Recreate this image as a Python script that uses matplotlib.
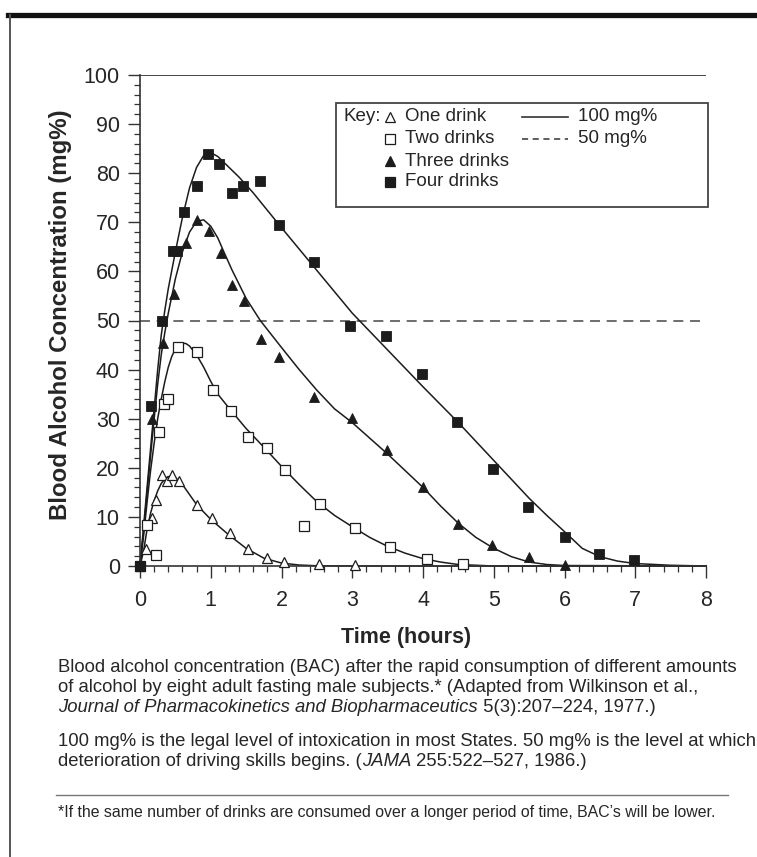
import matplotlib
matplotlib.use("Agg")
import matplotlib.pyplot as plt
from matplotlib.ticker import MultipleLocator
from matplotlib.patches import Rectangle
from matplotlib.lines import Line2D

plt.rcParams['font.family'] = ['Liberation Sans', 'DejaVu Sans']

# measured points (time in hours, BAC in mg%)
one_t = [0, 0.09, 0.17, 0.22, 0.31, 0.38, 0.45, 0.55, 0.80, 1.02, 1.27, 1.52, 1.79, 2.03, 2.53, 3.04]
one_y = [0, 3.5, 9.7, 13.4, 18.5, 17.3, 18.5, 17.3, 12.5, 9.7, 6.7, 3.5, 1.6, 0.8, 0.4, 0.2]

two_t = [0, 0.10, 0.22, 0.27, 0.34, 0.40, 0.54, 0.80, 1.03, 1.29, 1.53, 1.80, 2.05, 2.32, 2.54, 3.04, 3.53, 4.05, 4.56]
two_y = [0, 8.3, 2.2, 27.2, 33.0, 34.0, 44.6, 43.5, 35.8, 31.6, 26.2, 24.0, 19.6, 8.1, 12.6, 7.8, 3.9, 1.4, 0.5]

three_t = [0, 0.17, 0.32, 0.48, 0.65, 0.80, 0.98, 1.14, 1.30, 1.47, 1.71, 1.96, 2.46, 2.99, 3.49, 4.00, 4.49, 4.98, 5.50, 6.00]
three_y = [0, 30.0, 45.5, 55.3, 65.8, 70.4, 68.2, 63.8, 57.2, 54.0, 46.2, 42.6, 34.5, 30.1, 23.6, 16.0, 8.6, 4.3, 1.9, 0.3]

four_t = [0, 0.15, 0.31, 0.46, 0.52, 0.62, 0.80, 0.96, 1.12, 1.30, 1.45, 1.70, 1.96, 2.46, 2.97, 3.48, 3.98, 4.48, 4.99, 5.49, 6.00, 6.49, 6.98]
four_y = [0, 32.6, 50.0, 64.2, 64.2, 72.1, 77.4, 84.0, 81.9, 76.0, 77.3, 78.5, 69.5, 61.9, 48.9, 46.8, 39.1, 29.3, 19.7, 12.1, 6.0, 2.4, 1.2]

# fitted curves
fit1_t = [0, 0.05, 0.1, 0.15, 0.2, 0.25, 0.3, 0.35, 0.4, 0.45, 0.5, 0.6, 0.8, 1.0, 1.25, 1.5, 1.75, 2.0, 2.25, 2.5, 3.0, 8.0]
fit1_y = [0, 3.0, 7.5, 10.8, 13.3, 15.3, 16.8, 17.7, 18.2, 18.3, 18.0, 16.6, 12.5, 9.5, 6.4, 3.6, 1.6, 0.6, 0.2, 0.05, 0, 0]

fit2_t = [0, 0.05, 0.1, 0.15, 0.2, 0.25, 0.3, 0.35, 0.4, 0.45, 0.5, 0.55, 0.6, 0.65, 0.7, 0.8, 0.9, 1.0, 1.1, 1.25,
          1.5, 1.75, 2.0, 2.25, 2.5, 2.75, 3.0, 3.25, 3.5, 3.75, 4.0, 4.25, 4.5, 5.0, 8.0]
fit2_y = [0, 6.0, 13.0, 19.5, 25.0, 30.0, 34.0, 37.5, 40.5, 42.7, 44.2, 45.1, 45.4, 45.3, 44.8, 43.0, 40.5, 37.6, 35.0, 32.3,
          28.0, 24.2, 20.3, 16.6, 13.1, 10.3, 8.0, 5.8, 4.0, 2.6, 1.5, 0.8, 0.3, 0, 0]

fit3_t = [0, 0.05, 0.1, 0.15, 0.2, 0.25, 0.3, 0.35, 0.4, 0.5, 0.6, 0.7, 0.8, 0.9, 1.0, 1.1, 1.2, 1.3, 1.5, 1.7,
          2.0, 2.25, 2.5, 2.75, 3.0, 3.5, 4.0, 4.25, 4.5, 4.75, 5.0, 5.25, 5.5, 5.75, 6.0, 8.0]
fit3_y = [0, 7.0, 15.0, 22.5, 30.0, 37.0, 43.0, 47.5, 51.5, 58.5, 64.0, 68.0, 70.2, 70.5, 69.2, 66.8, 63.5, 60.3, 54.5, 50.0,
          44.5, 40.0, 35.8, 32.0, 29.2, 22.8, 16.0, 12.2, 8.7, 5.8, 3.6, 1.9, 0.8, 0.3, 0.1, 0]

fit4_t = [0, 0.05, 0.1, 0.15, 0.2, 0.25, 0.3, 0.35, 0.4, 0.5, 0.6, 0.7, 0.8, 0.9, 1.0, 1.1, 1.2, 1.4, 1.6, 2.0,
          2.5, 3.0, 3.5, 4.0, 4.5, 5.0, 5.5, 5.75, 6.0, 6.25, 6.5, 6.75, 7.0, 7.5, 8.0]
fit4_y = [0, 8.0, 16.0, 24.0, 32.0, 40.0, 47.0, 52.0, 56.5, 64.0, 71.0, 77.0, 81.2, 83.6, 84.2, 83.4, 82.0, 79.2, 76.0, 68.9,
          60.2, 51.5, 44.0, 36.5, 29.2, 21.5, 13.8, 10.3, 7.0, 3.6, 1.9, 1.0, 0.5, 0.15, 0]

legal_level = 100
impair_level = 50

ink = '#1c1c1c'
txt = '#262626'

fig = plt.figure(figsize=(7.57, 8.57), dpi=100)
ax = fig.add_axes([140 / 757, 1 - 566 / 857, 566 / 757, 491 / 857])

for t, y in [(fit1_t, fit1_y), (fit2_t, fit2_y), (fit3_t, fit3_y), (fit4_t, fit4_y)]:
    ax.plot(t, y, color=ink, lw=1.1, clip_on=False, zorder=2)

ax.plot(one_t, one_y, ls='none', marker='^', ms=7.5, mfc='white', mec=ink, mew=0.9, clip_on=False, zorder=3)
ax.plot(two_t, two_y, ls='none', marker='s', ms=7.2, mfc='white', mec=ink, mew=0.9, clip_on=False, zorder=3)
ax.plot(three_t, three_y, ls='none', marker='^', ms=7.5, mfc=ink, mec=ink, mew=0.6, clip_on=False, zorder=3)
ax.plot(four_t, four_y, ls='none', marker='s', ms=7.2, mfc=ink, mec=ink, mew=0.6, clip_on=False, zorder=3)

ax.axhline(legal_level, color='#444444', lw=1.4, zorder=1)
ax.axhline(impair_level, color='#555555', lw=1.2, ls=(0, (6, 4)), zorder=1)

ax.set_xlim(0, 8)
ax.set_ylim(0, 100)
ax.xaxis.set_major_locator(MultipleLocator(1))
ax.xaxis.set_minor_locator(MultipleLocator(0.2))
ax.yaxis.set_major_locator(MultipleLocator(10))
ax.yaxis.set_minor_locator(MultipleLocator(2))
ax.tick_params(which='major', direction='out', length=8.5, width=1, color='#333333',
               labelsize=15.5, labelcolor=txt)
ax.tick_params(axis='x', which='major', pad=9)
ax.tick_params(axis='y', which='major', pad=6)
ax.tick_params(which='minor', direction='out', length=4.5, width=0.9, color='#333333')
for s in ['top', 'right']:
    ax.spines[s].set_visible(False)
for s in ['left', 'bottom']:
    ax.spines[s].set_color('#333333')
    ax.spines[s].set_linewidth(1.2)

ax.set_xlabel('Time (hours)', fontsize=15.5, fontweight='bold', color=txt, va='center')
ax.xaxis.set_label_coords(0.47, -0.146)
ax.set_ylabel('Blood Alcohol Concentration (mg%)', fontsize=17.3, fontweight='bold', color=txt, va='center')
ax.yaxis.set_label_coords(-0.141, 0.511)

# key box
ax.add_patch(Rectangle((0.346, 0.731), 0.657, 0.212, transform=ax.transAxes, fill=False,
                       ec='#444444', lw=1.3, clip_on=False, zorder=4))
rows = [0.9145, 0.8697, 0.8248, 0.7821]
ks = 13.5
ax.text(0.359, rows[0], 'Key:', transform=ax.transAxes, fontsize=ks, color=txt, va='center')
key_items = [('^', 'white', 'One drink'), ('s', 'white', 'Two drinks'),
             ('^', ink, 'Three drinks'), ('s', ink, 'Four drinks')]
for r, (m, fc, lab) in zip(rows, key_items):
    ax.add_line(Line2D([0.4417], [r], transform=ax.transAxes, marker=m, ms=7.5 if m == '^' else 7,
                       mfc=fc, mec=ink, mew=0.9, ls='none', clip_on=False))
    ax.text(0.468, r, lab, transform=ax.transAxes, fontsize=ks, color=txt, va='center')
ax.add_line(Line2D([0.675, 0.756], [rows[0], rows[0]], transform=ax.transAxes, color='#333333', lw=1.2))
ax.add_line(Line2D([0.675, 0.756], [rows[1], rows[1]], transform=ax.transAxes, color='#333333', lw=1.1,
                   ls=(0, (4, 3))))
ax.text(0.774, rows[0], '100 mg%', transform=ax.transAxes, fontsize=ks, color=txt, va='center')
ax.text(0.774, rows[1], '50 mg%', transform=ax.transAxes, fontsize=ks, color=txt, va='center')

# caption
cx = 58 / 757
cs = 13.3
def fy(py):
    return 1 - py / 857

fig.text(cx, fy(667), 'Blood alcohol concentration (BAC) after the rapid consumption of different amounts',
         fontsize=cs, color=txt, va='center')
fig.text(cx, fy(688), 'of alcohol by eight adult fasting male subjects.* (Adapted from Wilkinson et al.,',
         fontsize=cs, color=txt, va='center')
j = fig.text(cx, fy(708), 'Journal of Pharmacokinetics and Biopharmaceutics', fontsize=cs, color=txt,
             va='center', style='italic')
ax.annotate(' 5(3):207\u2013224, 1977.)', xy=(1, 0), xycoords=j, fontsize=cs, color=txt,
            va='bottom', ha='left', annotation_clip=False)

fig.text(cx, fy(741), '100 mg% is the legal level of intoxication in most States. 50 mg% is the level at which',
         fontsize=cs, color=txt, va='center')
d = fig.text(cx, fy(761), 'deterioration of driving skills begins. (', fontsize=cs, color=txt, va='center')
jama = ax.annotate('JAMA', xy=(1, 0), xycoords=d, fontsize=cs, color=txt, style='italic',
                   va='bottom', ha='left', annotation_clip=False)
ax.annotate(' 255:522\u2013527, 1986.)', xy=(1, 0), xycoords=jama, fontsize=cs, color=txt,
            va='bottom', ha='left', annotation_clip=False)

fig.add_artist(Line2D([56 / 757, 728 / 757], [fy(795), fy(795)], color='#777777', lw=1.0))
fig.text(cx, fy(812), '*If the same number of drinks are consumed over a longer period of time, BAC\u2019s will be lower.',
         fontsize=11.4, color=txt, va='center')

# page frame
fig.add_artist(Line2D([8 / 757, 1.0], [fy(15), fy(15)], color='#111111', lw=3.8))
fig.add_artist(Line2D([10 / 757, 10 / 757], [fy(15), 0], color='#555555', lw=1.4))

fig.savefig('out.png', dpi=100)
